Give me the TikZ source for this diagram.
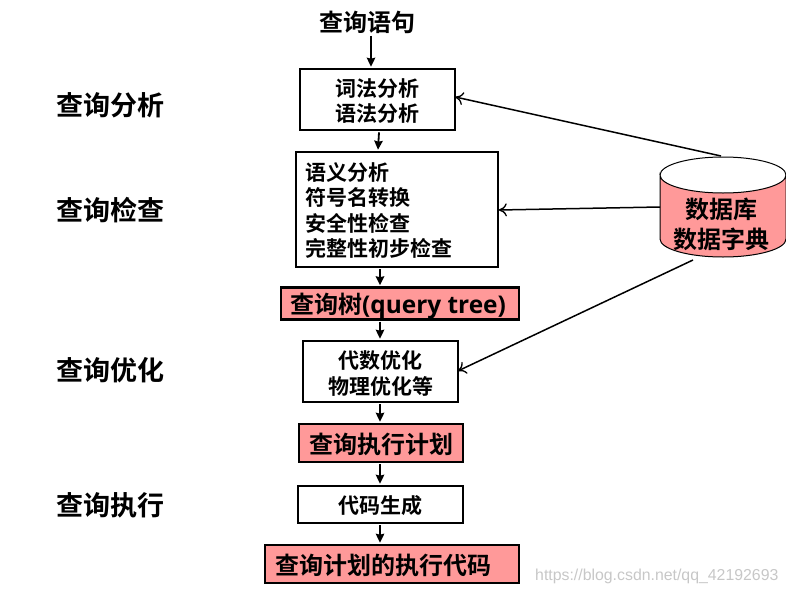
\documentclass[tikz,border=0pt]{standalone}
\usepackage{fontspec}
\setmainfont{Noto Sans CJK SC}[BoldFont={* Bold}]
\newfontfamily\cjkb{Noto Sans CJK SC Bold}
\newfontfamily\latinb{Open Sans}[BoldFont={* Bold}]
\newfontfamily\wmfont{Liberation Sans}
\usetikzlibrary{arrows.meta,calc}
\definecolor{salmonbox}{HTML}{FF9999}
\newcommand\nudgeup[1]{\rule{0pt}{#1pt}}
\tikzset{
  x=1pt,y=-1pt,
  heading/.style={inner sep=0pt,font=\cjkb\fontsize{27}{30}\selectfont,anchor=center},
  box/.style={draw=black,line width=2.6pt,fill=white,inner sep=0pt,anchor=center},
  plainbox/.style={box,align=center,font=\cjkb\fontsize{21}{25.2}\selectfont},
  pinkbox/.style={box,fill=salmonbox,font=\cjkb\fontsize{24}{28}\selectfont},
  flow/.style={line width=1.8pt,-{Stealth[length=9pt,width=8.5pt,inset=1pt]}},
  feed/.style={line width=1.5pt,-{To[length=8pt,width=13pt,line width=1.3pt]}},
}
\begin{document}
\begin{tikzpicture}
\useasboundingbox (0,0) rectangle (786,594);
% left headings
\node[heading] (h1) at (110,105) {查询分析};
\node[heading] (h2) at (110,210) {查询检查};
\node[heading] (h3) at (110,370) {查询优化};
\node[heading] (h4) at (110,505) {查询执行};
% boxes
\node[inner sep=0pt,font=\cjkb\fontsize{24}{28}\selectfont] (q) at (367.5,22) {查询语句};
\node[plainbox,minimum width=155pt,minimum height=61pt] (b1) at (377.5,99.5) {\nudgeup{21}词法分析\\语法分析};
\node[plainbox,minimum width=202pt,minimum height=115pt,align=left,text width=184pt] (b2) at (397,209.5) {\nudgeup{20}语义分析\\符号名转换\\安全性检查\\完整性初步检查};
\node[pinkbox,minimum width=238pt,minimum height=31pt] (tree) at (400,303.5) {\nudgeup{26}\hspace{-4pt}查询树{\latinb\bfseries\fontsize{24.4}{28}\selectfont(query tree)}};
\node[plainbox,minimum width=155pt,minimum height=61pt] (b3) at (380.5,371.5) {\nudgeup{22}代数优化\\物理优化等};
\node[pinkbox,minimum width=164pt,minimum height=38pt] (plan) at (381,443) {\nudgeup{24}查询执行计划};
\node[plainbox,minimum width=165pt,minimum height=37pt] (gen) at (380.5,504.5) {\nudgeup{21}代码生成};
\node[pinkbox,minimum width=254pt,minimum height=38pt] (final) at (392,564) {\nudgeup{23}\hspace{-17pt}查询计划的执行代码};
% database cylinder
\path[draw=black,line width=1pt,fill=salmonbox]
  (660,175) arc[start angle=180,end angle=0,x radius=63,y radius=18]
  -- (786,239) arc[start angle=0,end angle=180,x radius=63,y radius=18] -- cycle;
\draw[line width=1pt] (660,175) arc[start angle=180,end angle=360,x radius=63,y radius=18];
\node[inner sep=0pt,align=center,font=\cjkb\fontsize{24}{30.5}\selectfont] (db) at (721,224.5) {数据库\\数据字典};
\coordinate (dbtop) at (721,156);
\coordinate (dbleft) at (660,207);
\coordinate (dbbot) at (693,260);
\coordinate (qout) at (371,36);
% flow connectors
\draw[flow] (qout) -- ($(b1.north)+(-6.5,-1)$);
\draw[flow] ($(b1.south)+(1.5,1)$) -- ($(b2.north)+(-19,-1)$);
\draw[flow] ($(b2.south)+(-17,1)$) -- ($(tree.north)+(-20,-1)$);
\draw[flow] ($(tree.south)+(-20,1)$) -- ($(b3.north)+(-0.5,-1)$);
\draw[flow] ($(b3.south)+(-0.5,1)$) -- ($(plan.north)+(-1,-1)$);
\draw[flow] ($(plan.south)+(-1,1)$) -- ($(gen.north)+(-0.5,-1)$);
\draw[flow] ($(gen.south)+(-0.5,1)$) -- ($(final.north)+(-12,-1)$);
% feeds from the dictionary
\draw[feed] (dbtop) -- ($(b1.east)+(-1,-2.5)$);
\draw[feed] (dbleft) -- ($(b2.east)+(-0.5,0.5)$);
\draw[feed] (dbbot) -- ($(b3.east)+(-1.5,-0.5)$);
% watermark
\node[anchor=west,inner sep=0pt,text=black!22,font=\wmfont\fontsize{15.85}{18}\selectfont] (wm) at (535,576.5) {https://blog.csdn.net/qq\_42192693};
\end{tikzpicture}
\end{document}
